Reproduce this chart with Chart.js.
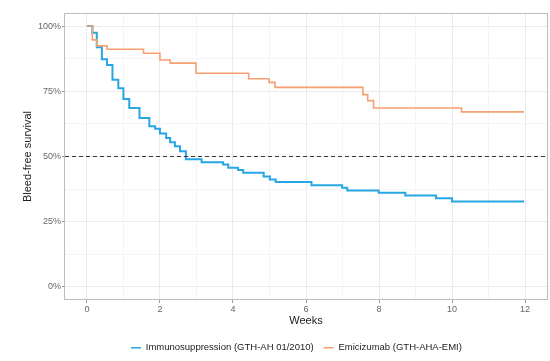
<!DOCTYPE html>
<html>
<head>
<meta charset="utf-8">
<style>
  html, body { margin: 0; padding: 0; background: #ffffff; }
  #wrap { width: 550px; height: 361px; }
</style>
<script src="https://cdn.jsdelivr.net/npm/chart.js@4/dist/chart.umd.min.js"></script>
</head>
<body>
<div id="wrap"><canvas id="km" width="550" height="361"></canvas></div>
<script>
// Kaplan-Meier step curves: time of each event (weeks) and survival after it (%)
const weeksIS  = [0, 0.15, 0.27, 0.41, 0.55, 0.70, 0.86, 1.00, 1.16, 1.44, 1.71, 1.87, 2.00, 2.17, 2.28, 2.41, 2.55, 2.71, 3.14, 3.73, 3.87, 4.14, 4.28, 4.84, 5.01, 5.17, 6.15, 6.99, 7.13, 7.99, 8.72, 9.56, 10.00, 11.97];
const survIS   = [100, 97.4, 91.9, 87.3, 85.1, 79.4, 76.2, 72.0, 68.6, 64.8, 61.6, 60.6, 58.8, 57.1, 55.5, 53.9, 52.0, 48.9, 47.8, 46.9, 45.7, 44.8, 43.8, 42.3, 41.2, 40.2, 39.0, 38.0, 37.0, 36.1, 35.1, 34.0, 32.8, 32.8];

const weeksEMI = [0, 0.15, 0.27, 0.55, 1.55, 2.00, 2.28, 2.99, 4.43, 4.99, 5.15, 7.56, 7.69, 7.85, 10.26, 11.97];
const survEMI  = [100, 94.7, 92.4, 91.1, 89.6, 87.0, 85.8, 81.9, 79.8, 78.4, 76.5, 73.7, 71.4, 68.6, 67.1, 67.1];

const seriesNames = ['Immunosuppression (GTH-AH 01/2010)', 'Emicizumab (GTH-AHA-EMI)'];
const medianLine = 50;

const xTicks = [0, 1, 2, 3, 4, 5, 6, 7, 8, 9, 10, 11, 12];
const xLabels = ['0', '', '2', '', '4', '', '6', '', '8', '', '10', '', '12'];
const yTicks = [0, 12.5, 25, 37.5, 50, 62.5, 75, 87.5, 100];
const yLabels = ['0%', '', '25%', '', '50%', '', '75%', '', '100%'];

const X_MIN = -0.6, X_MAX = 12.6, Y_MIN = -5, Y_MAX = 105;

const toPoints = (xs, ys) => xs.map((x, i) => ({ x: x, y: ys[i] }));

const FONT = "'Liberation Sans', Arial, Helvetica, sans-serif";
const LEGEND_X = 131;
const LEGEND_PAD = 10;

// grey frame around the panel, drawn over the data like a panel border
const panelBorder = {
  id: 'panelBorder',
  afterDatasetsDraw(chart) {
    const { ctx, chartArea: a } = chart;
    ctx.save();
    ctx.strokeStyle = '#bdbdbd';
    ctx.lineWidth = 1;
    ctx.strokeRect(Math.round(a.left) - 0.5, Math.round(a.top) + 0.5,
                   Math.round(a.right - a.left) + 1, Math.round(a.bottom - a.top) - 1);
    ctx.restore();
  }
};

// fixed legend height and horizontal placement
const legendPlacement = {
  id: 'legendPlacement',
  beforeLayout(chart) {
    const lg = chart.legend;
    if (lg && !lg._fixedFit) {
      const fit = lg.fit;
      lg.fit = function () { fit.call(this); this.height = 28; };
      lg._fixedFit = true;
    }
  },
  afterLayout(chart) {
    const lg = chart.legend;
    if (!lg) return;
    const w = lg.right - lg.left;
    lg.left = LEGEND_X - LEGEND_PAD;
    lg.right = lg.left + w;
  }
};

const majorX = v => v % 2 === 0;
const majorY = v => v % 25 === 0;

new Chart(document.getElementById('km'), {
  type: 'line',
  data: {
    datasets: [
      {
        label: seriesNames[0],
        data: toPoints(weeksIS, survIS),
        borderColor: '#27a6e3',
        backgroundColor: '#27a6e3',
        borderWidth: 2,
        stepped: 'before',
        pointRadius: 0,
        fill: false,
        order: 2
      },
      {
        label: seriesNames[1],
        data: toPoints(weeksEMI, survEMI),
        borderColor: '#f5a072',
        backgroundColor: '#f5a072',
        borderWidth: 1.6,
        stepped: 'before',
        pointRadius: 0,
        fill: false,
        order: 1
      },
      {
        label: 'median',
        data: [{ x: X_MIN, y: medianLine }, { x: X_MAX, y: medianLine }],
        borderColor: '#3a3a3a',
        borderWidth: 1,
        borderDash: [4, 3],
        pointRadius: 0,
        fill: false,
        order: 0
      }
    ]
  },
  options: {
    responsive: false,
    animation: false,
    devicePixelRatio: 1,
    layout: { padding: { top: 13, right: 3, bottom: 0, left: 0 } },
    plugins: {
      tooltip: { enabled: false },
      legend: {
        position: 'bottom',
        align: 'start',
        labels: {
          boxWidth: 10,
          boxHeight: 1.5,
          padding: LEGEND_PAD,
          color: '#222222',
          font: { family: FONT, size: 9.5 },
          filter: item => item.datasetIndex < 2,
          sort: (a, b) => a.datasetIndex - b.datasetIndex,
          generateLabels: chart => Chart.defaults.plugins.legend.labels.generateLabels(chart)
            .map(item => Object.assign(item, { lineWidth: 0 }))
        }
      }
    },
    scales: {
      x: {
        type: 'linear',
        min: X_MIN,
        max: X_MAX,
        afterBuildTicks: s => { s.ticks = xTicks.map(v => ({ value: v })); },
        afterFit: s => { s.height = 33; },
        border: { display: false },
        grid: {
          color: c => majorX(c.tick.value) ? '#ebebeb' : '#f5f5f5',
          lineWidth: 1,
          tickLength: 3,
          tickColor: c => majorX(c.tick.value) ? '#9a9a9a' : 'rgba(0,0,0,0)'
        },
        ticks: {
          autoSkip: false,
          maxRotation: 0,
          padding: 1,
          color: '#666666',
          font: { family: FONT, size: 9 },
          callback: v => xLabels[xTicks.indexOf(v)] ?? ''
        },
        title: {
          display: true,
          text: 'Weeks',
          color: '#222222',
          font: { family: FONT, size: 11 },
          padding: { top: 0, bottom: 5 }
        }
      },
      y: {
        type: 'linear',
        min: Y_MIN,
        max: Y_MAX,
        afterBuildTicks: s => { s.ticks = yTicks.map(v => ({ value: v })); },
        afterFit: s => { s.width = 65; },
        border: { display: false },
        grid: {
          color: c => majorY(c.tick.value) ? '#ebebeb' : '#f5f5f5',
          lineWidth: 1,
          tickLength: 3,
          tickColor: c => majorY(c.tick.value) ? '#9a9a9a' : 'rgba(0,0,0,0)'
        },
        ticks: {
          autoSkip: false,
          padding: 1,
          color: '#666666',
          font: { family: FONT, size: 9 },
          callback: v => yLabels[yTicks.indexOf(v)] ?? ''
        },
        title: {
          display: true,
          text: 'Bleed-free survival',
          color: '#222222',
          font: { family: FONT, size: 11 },
          padding: { top: 21, bottom: 0 }
        }
      }
    }
  },
  plugins: [panelBorder, legendPlacement]
});
</script>
</body>
</html>
